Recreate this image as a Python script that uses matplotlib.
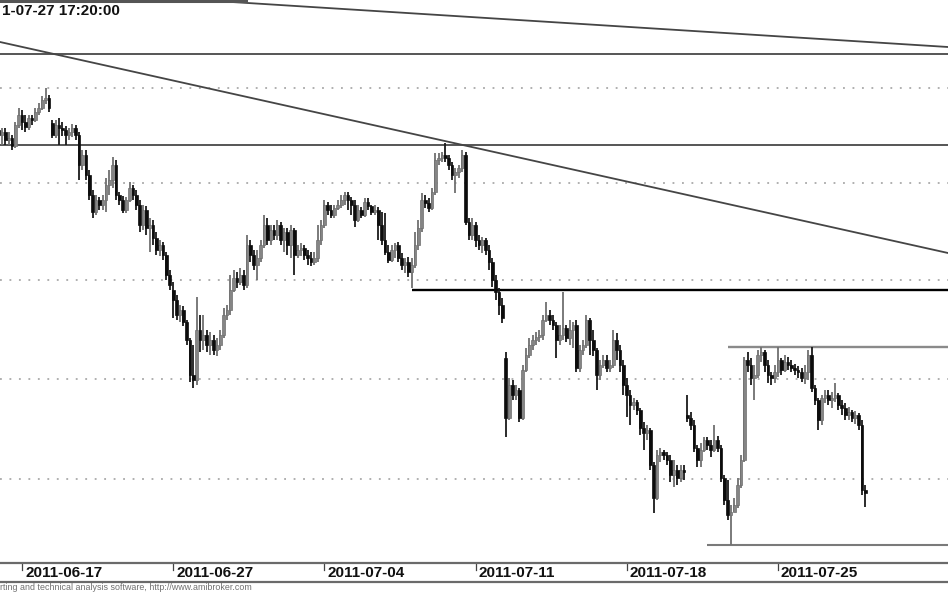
import matplotlib
matplotlib.use("Agg")
import matplotlib.pyplot as plt
import matplotlib.transforms as mtransforms
import numpy as np

plt.rcParams['font.family'] = ['Liberation Sans', 'DejaVu Sans']

# ---------------- data (hourly bars, 9 per session) ----------------
days = ["2011-06-16", "2011-06-17", "2011-06-20", "2011-06-21", "2011-06-22", "2011-06-24",
        "2011-06-27", "2011-06-28", "2011-06-29", "2011-06-30", "2011-07-01",
        "2011-07-04", "2011-07-05", "2011-07-06", "2011-07-07", "2011-07-08",
        "2011-07-11", "2011-07-12", "2011-07-13", "2011-07-14", "2011-07-15",
        "2011-07-18", "2011-07-19", "2011-07-20", "2011-07-21", "2011-07-22",
        "2011-07-25", "2011-07-26", "2011-07-27"]
bars_in_day = [7] + [9] * 28
tick_dates = ["2011-06-17", "2011-06-27", "2011-07-04", "2011-07-11", "2011-07-18", "2011-07-25"]

opens = [
    2870, 2865, 2868, 2860, 2862, 2854, 2875,
    2885, 2878, 2873, 2882, 2880, 2888, 2892, 2900, 2902,
    2877, 2865, 2875, 2872, 2870, 2865, 2868, 2872, 2865,
    2835, 2845, 2825, 2805, 2788, 2800, 2795, 2800, 2815,
    2820, 2835, 2805, 2800, 2790, 2800, 2812, 2805, 2795,
    2775, 2790, 2772, 2775, 2762, 2750, 2755, 2745, 2725,
    2710, 2700, 2685, 2690, 2678, 2660, 2625, 2620, 2670,
    2660, 2665, 2655, 2660, 2650, 2655, 2665, 2685, 2690,
    2710, 2722, 2718, 2725, 2715, 2755, 2745, 2735, 2742,
    2755, 2775, 2760, 2770, 2765, 2775, 2760, 2768, 2755,
    2770, 2745, 2750, 2752, 2745, 2742, 2738, 2742, 2760,
    2775, 2795, 2790, 2785, 2792, 2795, 2800, 2805, 2800,
    2795, 2780, 2790, 2785, 2798, 2794, 2788, 2790, 2775,
    2760, 2748, 2740, 2750, 2755, 2742, 2735, 2738, 2728,
    2735, 2755, 2772, 2800, 2797, 2792, 2808, 2840, 2842,
    2845, 2842, 2835, 2825, 2828, 2832, 2845, 2778, 2765,
    2775, 2760, 2755, 2760, 2750, 2738, 2720, 2708, 2695,
    2642, 2582, 2615, 2605, 2610, 2582, 2630, 2645, 2655,
    2660, 2663, 2665, 2680, 2685, 2680, 2675, 2660, 2665,
    2672, 2662, 2670, 2675, 2632, 2650, 2655, 2680, 2660,
    2650, 2625, 2635, 2640, 2632, 2635, 2660, 2650, 2635,
    2615, 2605, 2595, 2598, 2590, 2572, 2567, 2570, 2535,
    2502, 2545, 2548, 2545, 2540, 2525, 2530, 2522, 2530,
    2585, 2582, 2575, 2552, 2540, 2550, 2560, 2555, 2550,
    2560, 2552, 2522, 2500, 2485, 2488, 2495, 2515, 2540,
    2640, 2635, 2622, 2625, 2645, 2648, 2635, 2625, 2622,
    2628, 2640, 2630, 2638, 2635, 2632, 2630, 2628, 2622,
    2628, 2645, 2612, 2600, 2580, 2602, 2605, 2600, 2602,
    2605, 2595, 2592, 2585, 2588, 2582, 2585, 2575, 2510,
]
highs = [
    2875, 2872, 2872, 2868, 2865, 2878, 2892,
    2890, 2885, 2885, 2885, 2892, 2897, 2904, 2912, 2905,
    2880, 2880, 2882, 2878, 2874, 2872, 2876, 2875, 2868,
    2850, 2850, 2830, 2810, 2805, 2803, 2805, 2822, 2830,
    2843, 2840, 2808, 2804, 2803, 2818, 2815, 2810, 2800,
    2795, 2794, 2782, 2780, 2768, 2760, 2758, 2748, 2730,
    2718, 2705, 2695, 2694, 2680, 2662, 2655, 2703, 2685,
    2685, 2670, 2668, 2665, 2662, 2670, 2692, 2695, 2725,
    2730, 2728, 2732, 2730, 2765, 2760, 2750, 2750, 2760,
    2785, 2782, 2775, 2775, 2780, 2778, 2772, 2772, 2775,
    2772, 2755, 2757, 2755, 2750, 2748, 2748, 2775, 2780,
    2800, 2798, 2795, 2795, 2800, 2805, 2808, 2808, 2803,
    2800, 2795, 2793, 2802, 2802, 2795, 2795, 2793, 2788,
    2787, 2755, 2755, 2757, 2758, 2747, 2742, 2743, 2742,
    2768, 2780, 2807, 2805, 2802, 2812, 2847, 2847, 2848,
    2857, 2845, 2838, 2832, 2835, 2850, 2848, 2782, 2782,
    2778, 2765, 2763, 2762, 2755, 2742, 2725, 2712, 2702,
    2648, 2622, 2620, 2615, 2612, 2635, 2652, 2662, 2665,
    2668, 2670, 2685, 2698, 2690, 2685, 2678, 2675, 2708,
    2675, 2680, 2678, 2680, 2655, 2660, 2685, 2682, 2670,
    2652, 2640, 2645, 2645, 2640, 2670, 2667, 2655, 2640,
    2622, 2610, 2602, 2600, 2592, 2578, 2575, 2572, 2538,
    2550, 2552, 2550, 2548, 2545, 2540, 2535, 2535, 2535,
    2605, 2588, 2580, 2555, 2557, 2563, 2563, 2560, 2575,
    2564, 2555, 2525, 2520, 2495, 2502, 2522, 2545, 2643,
    2648, 2642, 2635, 2650, 2653, 2650, 2640, 2628, 2635,
    2653, 2642, 2645, 2643, 2640, 2636, 2634, 2632, 2635,
    2650, 2653, 2615, 2602, 2605, 2610, 2610, 2608, 2617,
    2607, 2600, 2597, 2593, 2590, 2589, 2587, 2580, 2515,
]
lows = [
    2860, 2855, 2855, 2855, 2850, 2852, 2872,
    2870, 2868, 2870, 2875, 2878, 2885, 2890, 2896, 2888,
    2862, 2862, 2855, 2864, 2855, 2860, 2863, 2860, 2820,
    2830, 2820, 2800, 2782, 2785, 2790, 2790, 2788, 2805,
    2812, 2800, 2795, 2787, 2787, 2798, 2800, 2790, 2768,
    2770, 2765, 2748, 2755, 2745, 2744, 2740, 2720, 2710,
    2682, 2680, 2678, 2674, 2655, 2618, 2612, 2615, 2648,
    2650, 2648, 2645, 2645, 2644, 2650, 2662, 2680, 2685,
    2708, 2712, 2715, 2710, 2712, 2738, 2730, 2720, 2738,
    2752, 2755, 2755, 2760, 2760, 2755, 2748, 2745, 2742,
    2725, 2742, 2744, 2740, 2735, 2734, 2735, 2738, 2755,
    2772, 2785, 2782, 2782, 2790, 2792, 2795, 2790, 2785,
    2773, 2778, 2782, 2783, 2790, 2785, 2785, 2760, 2755,
    2745, 2737, 2738, 2742, 2738, 2730, 2727, 2723, 2712,
    2732, 2750, 2768, 2792, 2788, 2790, 2805, 2835, 2838,
    2838, 2830, 2820, 2807, 2822, 2828, 2775, 2760, 2760,
    2753, 2750, 2747, 2745, 2730, 2713, 2700, 2685, 2677,
    2563, 2580, 2600, 2600, 2578, 2580, 2628, 2642, 2650,
    2655, 2658, 2660, 2678, 2675, 2670, 2642, 2655, 2660,
    2658, 2655, 2652, 2628, 2628, 2645, 2652, 2645, 2644,
    2610, 2620, 2632, 2628, 2628, 2632, 2640, 2628, 2605,
    2583, 2575, 2590, 2585, 2565, 2550, 2560, 2530, 2487,
    2500, 2538, 2540, 2535, 2518, 2513, 2515, 2518, 2520,
    2578, 2570, 2548, 2533, 2533, 2548, 2550, 2543, 2548,
    2548, 2518, 2495, 2480, 2455, 2488, 2492, 2512, 2538,
    2628, 2615, 2600, 2622, 2638, 2628, 2617, 2615, 2617,
    2623, 2625, 2628, 2630, 2628, 2625, 2622, 2618, 2616,
    2620, 2608, 2595, 2570, 2575, 2597, 2595, 2592, 2598,
    2590, 2585, 2580, 2580, 2578, 2576, 2570, 2505, 2493,
]
closes = [
    2865, 2868, 2860, 2862, 2854, 2875, 2885,
    2878, 2873, 2882, 2880, 2888, 2892, 2900, 2902, 2892,
    2865, 2875, 2872, 2870, 2865, 2868, 2872, 2865, 2835,
    2845, 2825, 2805, 2788, 2800, 2795, 2800, 2815, 2820,
    2835, 2805, 2800, 2790, 2800, 2812, 2805, 2795, 2775,
    2790, 2772, 2775, 2762, 2750, 2755, 2745, 2725, 2715,
    2700, 2685, 2690, 2678, 2660, 2625, 2620, 2670, 2660,
    2665, 2655, 2660, 2650, 2655, 2665, 2685, 2690, 2710,
    2722, 2718, 2725, 2715, 2755, 2745, 2735, 2742, 2755,
    2775, 2760, 2770, 2765, 2775, 2760, 2768, 2755, 2770,
    2745, 2750, 2752, 2745, 2742, 2738, 2742, 2760, 2775,
    2795, 2790, 2785, 2792, 2795, 2800, 2805, 2800, 2795,
    2780, 2790, 2785, 2798, 2794, 2788, 2790, 2775, 2760,
    2748, 2740, 2750, 2755, 2742, 2735, 2738, 2728, 2735,
    2755, 2772, 2800, 2797, 2792, 2808, 2840, 2842, 2845,
    2842, 2835, 2825, 2828, 2832, 2845, 2778, 2765, 2775,
    2760, 2755, 2760, 2750, 2738, 2720, 2708, 2695, 2682,
    2582, 2615, 2605, 2610, 2582, 2630, 2645, 2655, 2660,
    2663, 2665, 2680, 2685, 2680, 2675, 2660, 2665, 2672,
    2662, 2670, 2675, 2632, 2650, 2655, 2680, 2660, 2650,
    2625, 2635, 2640, 2632, 2635, 2660, 2650, 2635, 2615,
    2605, 2595, 2598, 2590, 2572, 2567, 2570, 2535, 2502,
    2545, 2548, 2545, 2540, 2525, 2530, 2522, 2530, 2528,
    2582, 2575, 2552, 2540, 2550, 2560, 2555, 2550, 2560,
    2552, 2522, 2500, 2485, 2488, 2495, 2515, 2540, 2640,
    2635, 2622, 2625, 2645, 2648, 2635, 2625, 2622, 2628,
    2640, 2630, 2638, 2635, 2632, 2630, 2628, 2622, 2628,
    2645, 2612, 2600, 2580, 2602, 2605, 2600, 2602, 2605,
    2595, 2592, 2585, 2588, 2582, 2585, 2575, 2510, 2507,
]

# grid levels and drawn studies (price levels / bar indices)
grid_levels = [2912, 2817, 2720, 2621, 2521]
full_hlines = [2946, 2855]
partial_hlines = [(123, 2710, "black", 1.7), (217, 2653, "#8a8a8a", 1.7), (211, 2455, "#7a7a7a", 1.5)]
trend_lines = [((0.45, 2958), (282.6, 2747)), ((60.0, 3000), (282.6, 2953))]
title_text = "1-07-27 17:20:00"
footer_text = "rting and technical analysis software, http://www.amibroker.com"

# ---------------- figure ----------------
W, H = 948, 593
fig = plt.figure(figsize=(W / 100, H / 100), dpi=100)
fig.patch.set_facecolor("white")

ax = fig.add_axes([0, 1 - 563 / H, 1, 563 / H])
n = len(closes)
xs = np.arange(n)
xlim = (0.45, 282.6)
ax.set_xlim(*xlim)
ax.set_ylim(2437, 3000)
for s in ax.spines.values():
    s.set_visible(False)
ax.set_xticks([])
ax.set_yticks([])

for g in grid_levels:
    ax.axhline(g, color="#9a9a9a", lw=1.1, ls=(0, (1.2, 5)), zorder=1)
for h in full_hlines:
    ax.axhline(h, color="#555555", lw=1.4, zorder=2)
for start, lvl, col, lw in partial_hlines:
    ax.plot([start, xlim[1]], [lvl, lvl], color=col, lw=lw, zorder=2, solid_capstyle="butt")
for (x0, y0), (x1, y1) in trend_lines:
    ax.plot([x0, x1], [y0, y1], color="#454545", lw=1.3, zorder=2)

o = np.array(opens, float)
hi = np.array(highs, float)
lo = np.array(lows, float)
c = np.array(closes, float)
up = c >= o
col_up, col_dn = "#858585", "#0c0c0c"
wick_cols = np.where(up, "#707070", "#1a1a1a")
ax.vlines(xs, lo, hi, colors=wick_cols, lw=1.3, zorder=3)
bottoms = np.minimum(o, c)
heights = np.maximum(np.abs(c - o), 2.0)
ax.bar(xs[up], heights[up], bottom=bottoms[up], width=0.8, color=col_up,
       edgecolor="#6e6e6e", linewidth=0.5, zorder=4)
ax.bar(xs[~up], heights[~up], bottom=bottoms[~up], width=0.8, color=col_dn,
       edgecolor="#0c0c0c", linewidth=0.5, zorder=4)

# short segment of the frame visible at the very top
ax.plot([0, 0.26], [0.998, 0.998], transform=ax.transAxes, color="#555555", lw=2.2, clip_on=False)

# ---------------- date band ----------------
band = fig.add_axes([0, 1 - 582 / H, 1, 19 / H])
band.set_xlim(*xlim)
band.set_ylim(0, 1)
band.set_xticks([])
band.set_yticks([])
for k in ["left", "right"]:
    band.spines[k].set_visible(False)
for k in ["top", "bottom"]:
    band.spines[k].set_color("#6a6a6a")
    band.spines[k].set_linewidth(1.6)

day_start = np.concatenate([[0], np.cumsum(bars_in_day)[:-1]])
off = mtransforms.offset_copy(band.transData, fig=fig, x=3, y=0, units="dots")
for d in tick_dates:
    idx = day_start[days.index(d)]
    band.plot([idx, idx], [1.0, 0.62], color="#444444", lw=0.9)
    band.text(idx, 0.45, d, transform=off, ha="left", va="center",
              fontsize=11, fontweight="bold", color="#111111")

fig.text(2 / W, 1 - 11 / H, title_text, ha="left", va="center",
         fontsize=11, fontweight="bold", color="#111111")
fig.text(0, 1 - 588 / H, footer_text, ha="left", va="center", fontsize=6.4, color="#707070")

fig.savefig("out.png", dpi=100, facecolor="white")
